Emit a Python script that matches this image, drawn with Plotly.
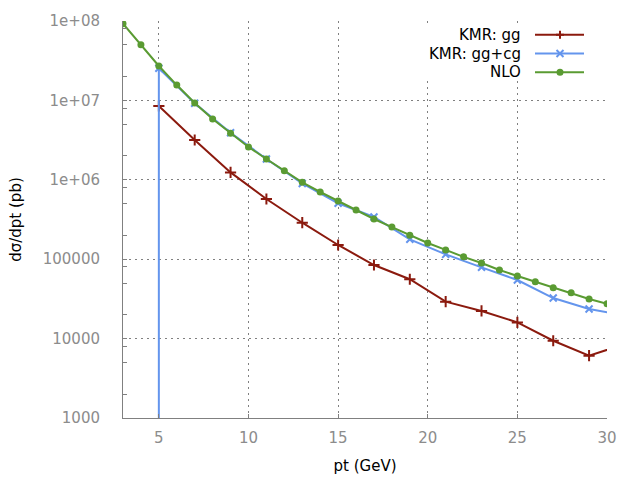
import plotly.graph_objects as go

# ---- data ----
pt_nlo = list(range(3, 31))
nlo = [9.25e7, 5.03e7, 2.71e7, 1.56e7, 9.27e6, 5.83e6, 3.86e6, 2.59e6, 1.83e6, 1.30e6,
       9.31e5, 7.02e5, 5.41e5, 4.17e5, 3.21e5, 2.54e5, 2.0e5, 1.6e5, 1.31e5, 1.07e5,
       8.95e4, 7.31e4, 6.14e4, 5.21e4, 4.38e4, 3.79e4, 3.16e4, 2.75e4]

pt_gg = [5, 7, 9, 11, 13, 15, 17, 19, 21, 23, 25, 27, 29, 31]
kmr_gg = [8.5e6, 3.17e6, 1.24e6, 5.73e5, 2.88e5, 1.51e5, 8.45e4, 5.59e4, 2.92e4,
          2.23e4, 1.60e4, 9.4e3, 6.1e3, 8.5e3]

pt_ggcg = [5, 5, 7, 9, 11, 13, 15, 17, 19, 21, 23, 25, 27, 29, 31]
kmr_ggcg = [1e-3, 2.54e7, 9.2e6, 3.92e6, 1.83e6, 9.0e5, 5.06e5, 3.4e5, 1.78e5, 1.15e5,
            7.9e4, 5.47e4, 3.24e4, 2.36e4, 1.95e4]

series_names = ["KMR: gg", "KMR: gg+cg", "NLO"]
colors = ["#8b1a0e", "#6495ed", "#5a9b32"]
symbols = ["cross-thin", "x-thin", "circle"]

y_tickvals = [1e3, 1e4, 1e5, 1e6, 1e7, 1e8]
y_ticktext = ["1000", "10000", "100000", "1e+06", "1e+07", "1e+08"]
x_tickvals = [5, 10, 15, 20, 25, 30]

minor_y = []
for d in [1e3, 1e4, 1e5, 1e6, 1e7]:
    for m in (2, 5, 8):
        minor_y.append(m * d)

FONT = "DejaVu Sans"
GRAY = "#808080"
TICKGRAY = "#8c8c8c"
GRIDDASH = "2px,4px"

# plot-area geometry in pixels (for the hand-drawn gnuplot style key)
L, R, T, B = 123, 607, 21, 418


def px(x):
    return (x - L) / (R - L)


def py(y):
    return (B - y) / (B - T)


def make_marker(s, c):
    if s == "circle":
        return dict(symbol=s, size=7, color=c)
    if s == "cross-thin":
        return dict(symbol=s, size=8, color=c, line=dict(color=c, width=2))
    return dict(symbol=s, size=7, color=c, line=dict(color=c, width=2))


fig = go.Figure()

data = [(pt_gg, kmr_gg), (pt_ggcg, kmr_ggcg), (pt_nlo, nlo)]
for (xs, ys), name, c, s in zip(data, series_names, colors, symbols):
    fig.add_trace(go.Scatter(x=xs, y=ys, mode="lines+markers", name=name,
                             line=dict(color=c, width=2), marker=make_marker(s, c),
                             showlegend=False))

# ---- key: white box over the grid, then text + sample line + symbol ----
fig.add_shape(type="rect", xref="paper", yref="paper",
              x0=px(408), x1=px(604), y0=py(81), y1=py(24),
              fillcolor="white", line=dict(width=0), layer="above")

leg_y = [34.7, 53.5, 72.3]
mx = 560
for name, c, s, yy in zip(series_names, colors, symbols, leg_y):
    fig.add_shape(type="line", xref="paper", yref="paper",
                  x0=px(535), x1=px(584), y0=py(yy), y1=py(yy),
                  line=dict(color=c, width=2), layer="above")
    if s == "cross-thin":
        path = (f"M {px(mx-4)} {py(yy)} L {px(mx+4)} {py(yy)} "
                f"M {px(mx)} {py(yy-4)} L {px(mx)} {py(yy+4)}")
        fig.add_shape(type="path", xref="paper", yref="paper", path=path,
                      line=dict(color=c, width=2), layer="above")
    elif s == "x-thin":
        path = (f"M {px(mx-3.5)} {py(yy-3.5)} L {px(mx+3.5)} {py(yy+3.5)} "
                f"M {px(mx-3.5)} {py(yy+3.5)} L {px(mx+3.5)} {py(yy-3.5)}")
        fig.add_shape(type="path", xref="paper", yref="paper", path=path,
                      line=dict(color=c, width=2), layer="above")
    else:
        fig.add_shape(type="circle", xref="paper", yref="paper",
                      x0=px(mx-3.5), x1=px(mx+3.5), y0=py(yy+3.5), y1=py(yy-3.5),
                      fillcolor=c, line=dict(color=c, width=0), layer="above")
    fig.add_annotation(x=px(523), y=py(yy), xref="paper", yref="paper", text=name,
                       showarrow=False, xanchor="right", yanchor="middle",
                       font=dict(family=FONT, size=15, color="black"))

fig.update_layout(
    width=640, height=480,
    margin=dict(l=L, r=640 - R, t=T, b=480 - B),
    paper_bgcolor="white", plot_bgcolor="white",
    font=dict(family=FONT, size=15, color="black"),
    showlegend=False,
    xaxis=dict(
        range=[3, 30], tickvals=x_tickvals, ticks="inside", ticklen=4, automargin=False,
        tickcolor=GRAY, showline=True, linecolor=GRAY, linewidth=1, mirror=False,
        showgrid=True, gridcolor=GRAY, griddash=GRIDDASH, gridwidth=1, zeroline=False,
        tickfont=dict(family=FONT, size=15, color=TICKGRAY), ticklabelstandoff=6,
        title=dict(text="pt (GeV)", font=dict(family=FONT, size=15, color="black"), standoff=14),
    ),
    yaxis=dict(
        type="log", range=[3, 8], tickvals=y_tickvals, ticktext=y_ticktext, automargin=False,
        ticks="inside", ticklen=4, tickcolor=GRAY,
        minor=dict(tickvals=minor_y, ticks="inside", ticklen=4, tickcolor=GRAY, showgrid=False),
        showline=True, linecolor=GRAY, linewidth=1, mirror=False,
        showgrid=True, gridcolor=GRAY, griddash=GRIDDASH, gridwidth=1, zeroline=False,
        tickfont=dict(family=FONT, size=15, color=TICKGRAY), ticklabelstandoff=19,
        title=dict(text="dσ/dpt (pb)", font=dict(family=FONT, size=15, color="black"), standoff=17),
    ),
)

fig.write_html("out.html")
